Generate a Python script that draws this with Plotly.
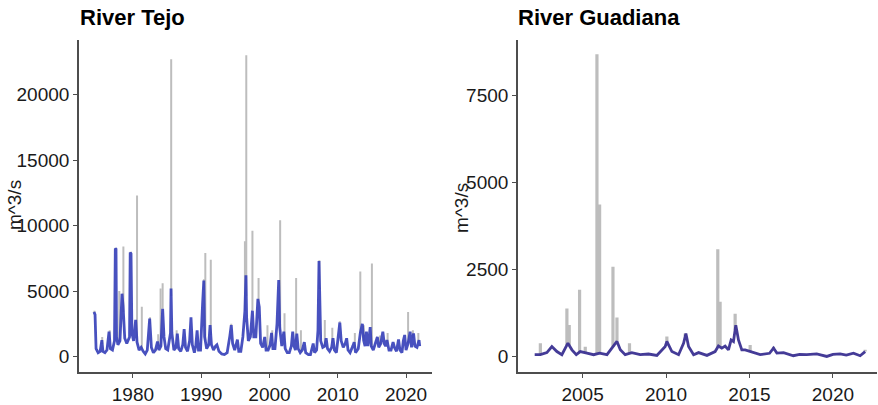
import numpy as np
import plotly.graph_objects as go

# ---------------- River Tejo (left) ----------------
tejo_line_year = [1974.30, 1974.45, 1974.60, 1974.9, 1975.2, 1975.45, 1975.6, 1975.9, 1976.2, 1976.5,
                  1976.7, 1977.0, 1977.3, 1977.42, 1977.52, 1977.6, 1977.8, 1978.1, 1978.4, 1978.55,
                  1978.8, 1979.1, 1979.5, 1979.6, 1979.72, 1979.85, 1980.1, 1980.4, 1980.6, 1980.9,
                  1981.2, 1981.5, 1981.8, 1982.1, 1982.45, 1982.7, 1983.0, 1983.3, 1983.6, 1983.8,
                  1984.1, 1984.35, 1984.55, 1984.8, 1985.1, 1985.5, 1985.58, 1985.7, 1986.0, 1986.3,
                  1986.5, 1986.7, 1987.0, 1987.3, 1987.5, 1987.7, 1988.0, 1988.3, 1988.5, 1988.7,
                  1989.0, 1989.2, 1989.4, 1989.6, 1989.9, 1990.2, 1990.38, 1990.5, 1990.8, 1991.1,
                  1991.3, 1991.5, 1991.8, 1992.1, 1992.3, 1992.6, 1993.0, 1993.4, 1993.8, 1994.2,
                  1994.4, 1994.6, 1994.9, 1995.1, 1995.3, 1995.5, 1995.8, 1996.1, 1996.4, 1996.55,
                  1996.65, 1996.9, 1997.2, 1997.5, 1997.7, 1998.0, 1998.3, 1998.5, 1998.7, 1999.0,
                  1999.3, 1999.5, 1999.8, 2000.1, 2000.3, 2000.5, 2000.8, 2001.1, 2001.35, 2001.5,
                  2001.8, 2002.1, 2002.3, 2002.6, 2002.9, 2003.2, 2003.4, 2003.6, 2003.8, 2004.0,
                  2004.2, 2004.5, 2004.8, 2005.1, 2005.3, 2005.7, 2006.0, 2006.4, 2006.6, 2006.9,
                  2007.1, 2007.25, 2007.35, 2007.5, 2007.8, 2008.1, 2008.3, 2008.5, 2008.8, 2009.1,
                  2009.3, 2009.5, 2009.8, 2010.1, 2010.3, 2010.5, 2010.8, 2011.1, 2011.3, 2011.5,
                  2011.8, 2012.2, 2012.4, 2012.6, 2013.0, 2013.3, 2013.6, 2013.8, 2014.0, 2014.2,
                  2014.4, 2014.6, 2014.75, 2014.9, 2015.2, 2015.5, 2015.8, 2016.0, 2016.3, 2016.6,
                  2016.8, 2017.0, 2017.2, 2017.5, 2017.8, 2018.1, 2018.3, 2018.6, 2018.9, 2019.1,
                  2019.4, 2019.6, 2019.8, 2020.0, 2020.3, 2020.6, 2020.8, 2021.1, 2021.3, 2021.6,
                  2021.9, 2022.0]
tejo_line_flow = [3400, 3200, 600, 300, 400, 1250, 400, 300, 500, 1900,
                  600, 500, 1200, 8250, 8200, 1500, 900, 1200, 4800, 3900,
                  1400, 1000, 1500, 7950, 7850, 1800, 1200, 2800, 1100, 500,
                  700, 400, 200, 500, 2900, 700, 300, 500, 1150, 500,
                  800, 3650, 1500, 600, 500, 1800, 5200, 1800, 500, 700,
                  1750, 600, 400, 900, 2100, 700, 400, 1200, 3000, 900,
                  300, 800, 2000, 500, 500, 4000, 5800, 1500, 600, 900,
                  2400, 900, 500, 800, 900, 400, 200, 150, 300, 1600,
                  2400, 1000, 500, 900, 1300, 400, 400, 1500, 3500, 6200,
                  3000, 1200, 1500, 3500, 1500, 1500, 4400, 3800, 1000, 700,
                  1500, 500, 500, 900, 1800, 600, 600, 2500, 5850, 2200,
                  800, 1900, 600, 300, 300, 800, 1900, 800, 500, 1750,
                  600, 300, 500, 1100, 300, 150, 150, 1000, 300, 500,
                  2000, 7300, 3000, 1200, 700, 800, 1400, 600, 400, 700,
                  1400, 500, 300, 1500, 2600, 1200, 700, 1000, 1400, 500,
                  300, 800, 1100, 300, 600, 1800, 2500, 1200, 800, 1900,
                  800, 1500, 2250, 800, 500, 1000, 1500, 700, 1000, 1900,
                  1000, 800, 1260, 500, 500, 1100, 700, 400, 1300, 500,
                  300, 1200, 1650, 500, 1000, 1900, 700, 1760, 800, 700,
                  1260, 800]

tejo_spike_year = [1974.35, 1975.5, 1976.6, 1977.45, 1978.0, 1978.6, 1979.65, 1980.6, 1981.3, 1982.5,
                   1983.7, 1984.05, 1984.35, 1985.6, 1986.4, 1988.5, 1990.4, 1990.6, 1991.4, 1994.4,
                   1996.4, 1996.6, 1997.5, 1998.4, 1999.7, 2000.4, 2001.56, 2002.2, 2003.9, 2004.6,
                   2007.3, 2008.1, 2009.2, 2010.3, 2012.5, 2013.3, 2013.8, 2015.0, 2016.2, 2017.3,
                   2020.3, 2021.0, 2021.8]
tejo_spike_flow = [3500, 1500, 2000, 8300, 5000, 8400, 8000, 12300, 3800, 3000,
                   1700, 5200, 5600, 22700, 2000, 3000, 5900, 7900, 7400, 2500,
                   8800, 23000, 9600, 6000, 2400, 2000, 10400, 3300, 6000, 2000,
                   7350, 2800, 2200, 2700, 1800, 6500, 2400, 7100, 1600, 1800,
                   3400, 2000, 1800]

# ---------------- River Guadiana (right) ----------------
guad_line_year = [2002.13, 2002.47, 2002.86, 2003.16, 2003.46, 2003.76, 2004.12, 2004.36, 2004.62, 2004.86,
                  2005.26, 2005.66, 2006.02, 2006.46, 2006.90, 2007.06, 2007.26, 2007.55, 2007.95, 2008.45,
                  2008.95, 2009.45, 2009.95, 2010.05, 2010.35, 2010.75, 2011.05, 2011.19, 2011.35, 2011.65,
                  2011.95, 2012.45, 2012.94, 2013.14, 2013.34, 2013.54, 2013.74, 2013.90, 2014.04, 2014.18,
                  2014.34, 2014.54, 2014.74, 2015.04, 2015.64, 2016.2, 2016.44, 2016.64, 2017.04, 2017.63,
                  2018.0, 2018.43, 2019.03, 2019.63, 2020.0, 2020.43, 2020.8, 2021.23, 2021.63, 2021.93]
guad_line_flow = [50, 50, 110, 285, 140, 50, 380, 190, 50, 140,
                  95, 50, 95, 50, 330, 430, 190, 50, 110, 50,
                  70, 30, 285, 430, 140, 50, 380, 660, 285, 50,
                  110, 30, 140, 300, 240, 300, 190, 475, 430, 900,
                  475, 190, 190, 140, 50, 90, 240, 95, 110, 20,
                  60, 50, 75, 0, 60, 75, 40, 95, 20, 140]

guad_spike_year = [2002.47, 2004.06, 2004.2, 2004.82, 2005.16, 2005.86, 2006.02, 2006.82, 2007.06, 2007.81,
                   2010.05, 2011.15, 2013.10, 2013.24, 2014.14, 2015.04, 2016.44, 2021.93]
guad_spike_flow = [380, 1380, 900, 1920, 280, 8690, 4370, 2580, 1120, 380,
                   570, 660, 3080, 1570, 1230, 330, 280, 190]

tejo_ticks = [1980, 1990, 2000, 2010, 2020]
tejo_yticks = [0, 5000, 10000, 15000, 20000]
guad_ticks = [2005, 2010, 2015, 2020]
guad_yticks = [0, 2500, 5000, 7500]


def spikes(years, flows, line_years, line_flows):
    xs, ys = [], []
    for t, v in zip(years, flows):
        base = float(np.interp(t, line_years, line_flows))
        xs += [t, t, None]
        ys += [base, v, None]
    return xs, ys


FONT = "Liberation Sans, Arial, sans-serif"

fig = go.Figure()
sx, sy = spikes(tejo_spike_year, tejo_spike_flow, tejo_line_year, tejo_line_flow)
fig.add_trace(go.Scatter(x=sx, y=sy, mode="lines", line=dict(color="#bdbdbd", width=2),
                         xaxis="x", yaxis="y", hoverinfo="skip", showlegend=False))
fig.add_trace(go.Scatter(x=tejo_line_year, y=tejo_line_flow, mode="lines",
                         line=dict(color="rgba(52,62,184,0.9)", width=2.8),
                         xaxis="x", yaxis="y", showlegend=False))
gx, gy = spikes(guad_spike_year, guad_spike_flow, guad_line_year, guad_line_flow)
fig.add_trace(go.Scatter(x=gx, y=gy, mode="lines", line=dict(color="#bdbdbd", width=3.2),
                         xaxis="x2", yaxis="y2", hoverinfo="skip", showlegend=False))
fig.add_trace(go.Scatter(x=guad_line_year, y=guad_line_flow, mode="lines",
                         line=dict(color="rgba(58,48,145,0.95)", width=2.8),
                         xaxis="x2", yaxis="y2", showlegend=False))

axis_common = dict(showline=True, linecolor="#4d4d4d", linewidth=1.6, ticks="outside",
                   ticklen=4, tickwidth=1.2, tickcolor="#4d4d4d", showgrid=False, zeroline=False,
                   tickformat="d",
                   tickfont=dict(family=FONT, size=19, color="#1a1a1a"))

fig.update_layout(
    width=878, height=405, margin=dict(l=0, r=0, t=0, b=0),
    paper_bgcolor="white", plot_bgcolor="white",
    xaxis=dict(domain=[79 / 878, 432 / 878], range=[1972.1, 2023.8], tickvals=tejo_ticks,
               anchor="y", **axis_common),
    yaxis=dict(domain=[1 - 376 / 405, 1 - 40 / 405], range=[-1200, 24200], tickvals=tejo_yticks,
               anchor="x", **axis_common),
    xaxis2=dict(domain=[518 / 878, 877 / 878], range=[2001.13, 2022.64], tickvals=guad_ticks,
                anchor="y2", **axis_common),
    yaxis2=dict(domain=[1 - 376 / 405, 1 - 40 / 405], range=[-456, 9110], tickvals=guad_yticks,
                anchor="x2", **axis_common),
    annotations=[
        dict(text="<b>River Tejo</b>", x=78 / 878, y=1 - 18 / 405, xref="paper", yref="paper",
             xanchor="left", yanchor="middle", showarrow=False,
             font=dict(family=FONT, size=22, color="black")),
        dict(text="<b>River Guadiana</b>", x=516 / 878, y=1 - 18 / 405, xref="paper", yref="paper",
             xanchor="left", yanchor="middle", showarrow=False,
             font=dict(family=FONT, size=22, color="black")),
        dict(text="m^3/s", x=15 / 878, y=1 - 207 / 405, xref="paper", yref="paper", textangle=-90,
             xanchor="center", yanchor="middle", showarrow=False,
             font=dict(family=FONT, size=19, color="#1a1a1a")),
        dict(text="m^3/s", x=462 / 878, y=1 - 210 / 405, xref="paper", yref="paper", textangle=-90,
             xanchor="center", yanchor="middle", showarrow=False,
             font=dict(family=FONT, size=19, color="#1a1a1a")),
    ],
)

fig.write_html("out.html")
